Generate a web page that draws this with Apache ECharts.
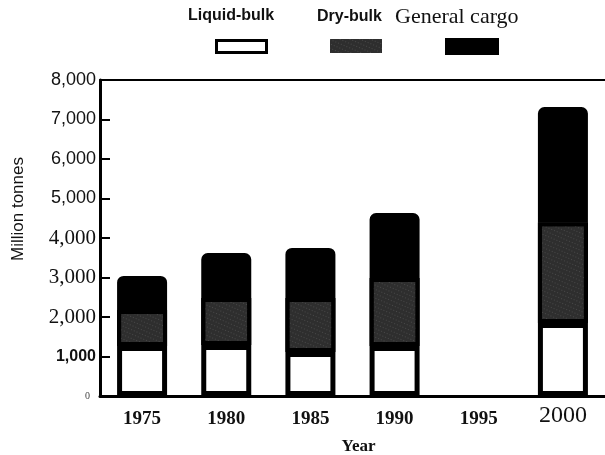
<!DOCTYPE html>
<html>
<head>
<meta charset="utf-8">
<script src="https://cdn.jsdelivr.net/npm/echarts@6/dist/echarts.min.js"></script>
<style>
  html, body { margin: 0; padding: 0; background: #fff; }
  #chart { width: 605px; height: 455px; }
</style>
</head>
<body>
<div id="chart"></div>
<script>
// data (million tonnes)
const years = ['1975', '1980', '1985', '1990', '1995', '2000'];
const liquidBulk = [1265, 1290, 1115, 1265, null, 1850];
const dryBulk = [915, 1190, 1365, 1725, null, 2550];
const generalCargo = [860, 1140, 1270, 1640, null, 2915];
const seriesNames = ['Liquid-bulk', 'Dry-bulk', 'General cargo'];
const yTickLabels = {0: '0', 1000: '1,000', 2000: '2,000', 3000: '3,000', 4000: '4,000',
  5000: '5,000', 6000: '6,000', 7000: '7,000', 8000: '8,000'};
// the scanned original mixes typefaces on the value axis
const yTickStyle = {0: 'z', 1000: 'b', 2000: 'r', 3000: 'r', 4000: 'r',
  5000: 's', 6000: 's', 7000: 's', 8000: 's'};

const chart = echarts.init(document.getElementById('chart'));

const speckle = {
  symbol: 'rect',
  symbolSize: 0.7,
  color: 'rgba(175,175,175,0.6)',
  dashArrayX: [1, 2],
  dashArrayY: [1, 3],
  rotation: 0.4
};

const sansBold = {fontFamily: 'Liberation Sans', fontWeight: 'bold', fontSize: 16, color: '#111'};

const option = {
  animation: false,
  title: [
    {text: 'Liquid-bulk', left: 188, top: 8, padding: 0, textStyle: sansBold},
    {text: 'Dry-bulk', left: 317, top: 9, padding: 0, textStyle: sansBold},
    {text: 'General cargo', left: 395, top: 6, padding: 0,
      textStyle: {fontFamily: 'Liberation Serif', fontWeight: 'normal', fontSize: 22, color: '#111'}}
  ],
  legend: [
    {data: [seriesNames[0]], left: 215, top: 39, padding: 0, icon: 'rect',
      itemWidth: 50, itemHeight: 12, formatter: () => '',
      itemStyle: {borderColor: '#000', borderWidth: 3}},
    {data: [seriesNames[1]], left: 330, top: 39, padding: 0, icon: 'rect',
      itemWidth: 52, itemHeight: 14, formatter: () => '',
      itemStyle: {borderWidth: 0}},
    {data: [seriesNames[2]], left: 445, top: 38, padding: 0, icon: 'rect',
      itemWidth: 52, itemHeight: 15, formatter: () => ''}
  ],
  grid: {left: 100, right: 0, top: 80, bottom: 59, outerBoundsMode: 'none'},
  xAxis: [
    {
      type: 'category',
      data: years,
      axisLine: {lineStyle: {color: '#000', width: 3}},
      axisTick: {show: false},
      axisLabel: {
        margin: 14,
        formatter: v => v === '2000' ? '{big|' + v + '}' : '{n|' + v + '}',
        rich: {
          n: {fontFamily: 'Liberation Serif', fontWeight: 'bold', fontSize: 19, color: '#111'},
          big: {fontFamily: 'Liberation Serif', fontSize: 24, color: '#111', padding: [-6, 0, 0, 0]}
        }
      },
      name: 'Year',
      nameLocation: 'middle',
      nameGap: 42,
      nameTextStyle: {fontFamily: 'Liberation Serif', fontWeight: 'bold', fontSize: 17, color: '#111',
        padding: [0, 0, 0, 12]}
    },
    {
      type: 'category',
      position: 'top',
      data: years,
      axisLine: {lineStyle: {color: '#000', width: 2}},
      axisTick: {show: false},
      axisLabel: {show: false}
    }
  ],
  yAxis: {
    type: 'value',
    min: 0,
    max: 8000,
    interval: 1000,
    splitLine: {show: false},
    axisLine: {show: true, lineStyle: {color: '#000', width: 3}},
    axisTick: {show: true, inside: true, length: 10, lineStyle: {color: '#000', width: 2}},
    axisLabel: {
      margin: 4,
      formatter: v => '{' + yTickStyle[v] + '|' + yTickLabels[v] + '}',
      rich: {
        s: {fontFamily: 'Liberation Sans', fontSize: 18, color: '#111'},
        b: {fontFamily: 'Liberation Sans', fontWeight: 'bold', fontSize: 16, color: '#111'},
        r: {fontFamily: 'Liberation Serif', fontSize: 21, color: '#111'},
        z: {fontFamily: 'Liberation Serif', fontSize: 10, color: '#444', padding: [0, 6, 0, 0]}
      }
    },
    name: 'Million tonnes',
    nameLocation: 'middle',
    nameGap: 73,
    nameRotate: 90,
    nameTextStyle: {fontFamily: 'Liberation Sans', fontSize: 17, color: '#111', padding: [0, 0, 0, 58]}
  },
  series: [
    {
      name: seriesNames[0], type: 'bar', stack: 'trade', barWidth: 50,
      data: liquidBulk,
      itemStyle: {color: '#fff', borderColor: '#000', borderWidth: 5}
    },
    {
      name: seriesNames[1], type: 'bar', stack: 'trade',
      data: dryBulk,
      itemStyle: {color: '#2e2e2e', borderColor: '#000', borderWidth: 4, decal: speckle}
    },
    {
      name: seriesNames[2], type: 'bar', stack: 'trade',
      data: generalCargo,
      itemStyle: {color: '#000', borderColor: '#000', borderWidth: 5, borderRadius: [4, 4, 0, 0]}
    }
  ]
};

chart.setOption(option);
</script>
</body>
</html>
